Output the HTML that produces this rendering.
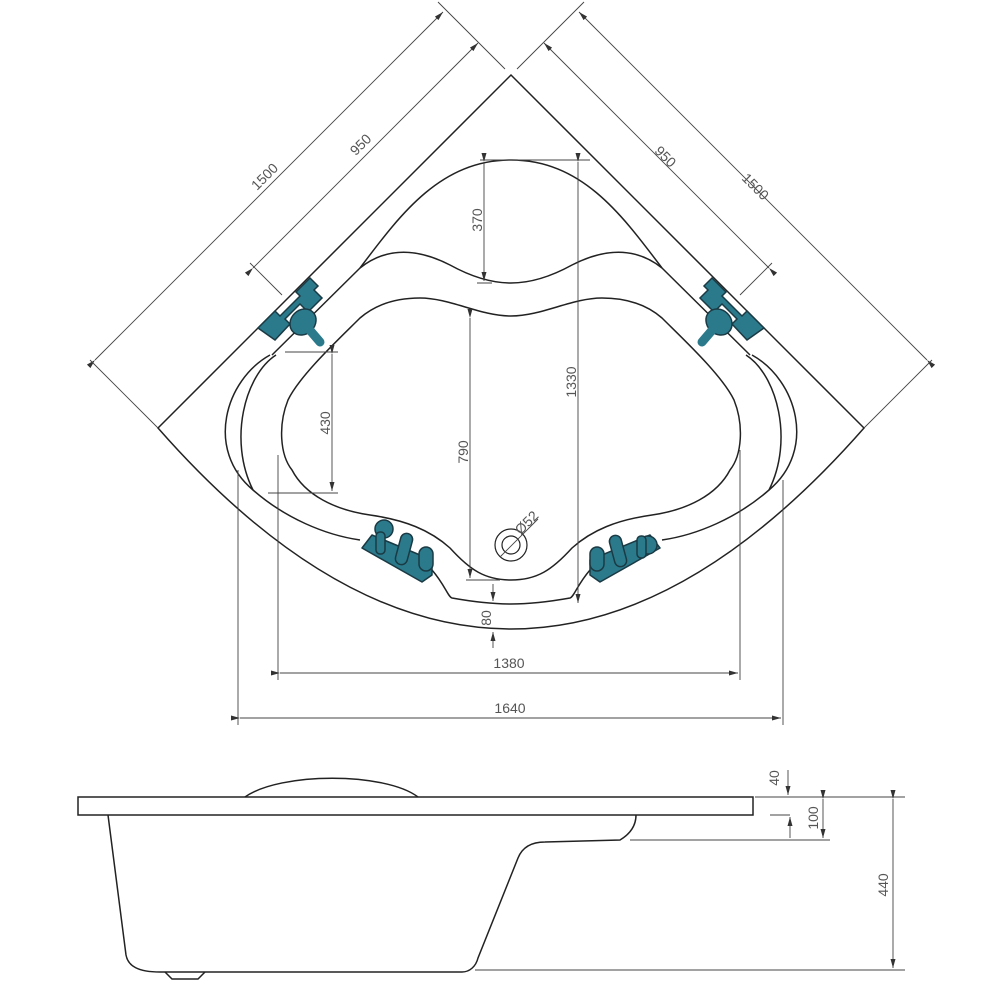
<!DOCTYPE html>
<html><head><meta charset="utf-8"><style>
html,body{margin:0;padding:0;background:#fff}
svg{display:block}
text{font-family:"Liberation Sans",sans-serif;font-size:14px;fill:#555}
</style></head><body>
<svg width="1000" height="1000" viewBox="0 0 1000 1000" xmlns="http://www.w3.org/2000/svg">
<defs>
<marker id="a" markerWidth="10" markerHeight="8" refX="9" refY="4" orient="auto" markerUnits="userSpaceOnUse"><path d="M0,1.5 L9,4 L0,6.5 Z" fill="#333"/></marker>
</defs>
<g fill="none" stroke="#222" stroke-width="1.5">
<!-- outer -->
<path d="M511,75 L158,428 Q511,830 864,428 Z"/>
<!-- inner parallel lines -->
<path d="M360,268 L272,355"/>
<path d="M662,268 L750,355"/>
<!-- top arch -->
<path d="M360,268 C400,215 440,160 511,160 C582,160 622,215 662,268"/>
<!-- wave -->
<path d="M360,268 C385,248 415,247 450,265 C470,276 490,283 511,283 C532,283 552,276 572,265 C607,247 637,248 662,268"/>
<!-- basin -->
<path d="M511,316 C480,316 450,298 420,298 C395,298 375,305 360,318 C340,338 300,375 288,400 C278,425 280,455 292,470 C305,495 335,510 370,515 C405,520 430,530 450,548 C470,570 485,580 511,580 C537,580 552,570 572,548 C592,530 617,520 652,515 C687,510 717,495 730,470 C742,455 744,425 734,400 C722,375 682,338 662,318 C647,305 627,298 602,298 C572,298 542,316 511,316 Z"/>
<!-- middle rim with armrests -->
<path d="M270,355 C225,380 205,450 253,490 C285,518 325,535 360,540"/>
<path d="M276,355 C245,375 228,440 253,490"/>
<path d="M432,570 C445,585 448,597 452,598 C480,603 500,604 511,604 C522,604 542,603 570,598 C574,597 577,585 590,570"/>
<path d="M752,355 C797,380 817,450 769,490 C737,518 697,535 662,540"/>
<path d="M746,355 C777,375 794,440 769,490"/>
<!-- drain -->
<circle cx="511" cy="545" r="16" stroke-width="1.2"/>
<circle cx="511" cy="545" r="9" stroke-width="1.2"/>
</g>
<!-- fixtures -->
<g fill="#2b7a8c" stroke="#1a3a44" stroke-width="1.5">
<path d="M258,328 L275,311 L280,316 L300,296 L296,292 L310,278 L318,286 L314,290 L322,298 L308,312 L300,304 L285,319 L290,324 L275,340 Z"/>
<ellipse cx="303" cy="322" rx="14" ry="12" transform="rotate(-45 303 322)"/>
<path d="M308,328 L320,342" stroke-width="9" stroke-linecap="round" stroke="#2b7a8c"/>
<path d="M764,328 L747,311 L742,316 L722,296 L726,292 L712,278 L704,286 L708,290 L700,298 L714,312 L722,304 L737,319 L732,324 L747,340 Z"/>
<ellipse cx="719" cy="322" rx="14" ry="12" transform="rotate(45 719 322)"/>
<path d="M714,328 L702,342" stroke-width="9" stroke-linecap="round" stroke="#2b7a8c"/>
<path d="M362,548 L372,535 L432,560 L432,575 L422,582 Z" stroke-linejoin="round"/>
<circle cx="384" cy="529" r="9"/><rect x="376" y="532" width="9" height="22" rx="4"/>
<rect x="398" y="533" width="12" height="32" rx="6" transform="rotate(15 404 549)"/>
<rect x="419" y="547" width="14" height="24" rx="7"/>
<path d="M660,548 L650,535 L590,560 L590,575 L600,582 Z" stroke-linejoin="round"/>
<circle cx="648" cy="545" r="9"/><rect x="637" y="536" width="9" height="22" rx="4"/>
<rect x="612" y="535" width="12" height="32" rx="6" transform="rotate(-15 618 551)"/>
<rect x="590" y="547" width="14" height="24" rx="7"/>
</g>
<!-- dimension lines -->
<g fill="none" stroke="#444" stroke-width="0.9">
<path d="M95,360 L443,12" marker-start="url(#a)" marker-end="url(#a)"/>
<path d="M158,428 L90,360 M505,69 L438,2"/>
<path d="M253,268 L478,43" marker-start="url(#a)" marker-end="url(#a)"/>
<path d="M250,263 L282,295"/>
<path d="M927,360 L579,12" marker-start="url(#a)" marker-end="url(#a)"/>
<path d="M864,428 L932,360 M517,69 L584,2"/>
<path d="M769,268 L544,43" marker-start="url(#a)" marker-end="url(#a)"/>
<path d="M772,263 L740,295"/>
<path d="M480,160 L590,160 M477,283 L492,283"/>
<path d="M484,162 L484,281" marker-start="url(#a)" marker-end="url(#a)"/>
<path d="M578,162 L578,603" marker-start="url(#a)" marker-end="url(#a)"/>
<path d="M470,318 L470,578" marker-start="url(#a)" marker-end="url(#a)"/>
<path d="M466,580 L500,580"/>
<path d="M285,352 L338,352 M268,493 L338,493"/>
<path d="M332,354 L332,491" marker-start="url(#a)" marker-end="url(#a)"/>
<path d="M493,584 L493,601" marker-end="url(#a)"/>
<path d="M493,648 L493,632" marker-end="url(#a)"/>
<path d="M278,455 L278,680 M740,450 L740,680"/>
<path d="M280,673 L738,673" marker-start="url(#a)" marker-end="url(#a)"/>
<path d="M238,470 L238,725 M783,480 L783,725"/>
<path d="M240,718 L781,718" marker-start="url(#a)" marker-end="url(#a)"/>
<path d="M500,557 L538,519"/>
</g>
<text transform="translate(268,180) rotate(-45)" text-anchor="middle">1500</text>
<text transform="translate(364,148) rotate(-45)" text-anchor="middle">950</text>
<text transform="translate(662,160) rotate(45)" text-anchor="middle">950</text>
<text transform="translate(752,190) rotate(45)" text-anchor="middle">1500</text>
<text transform="translate(482,220) rotate(-90)" text-anchor="middle">370</text>
<text transform="translate(576,382) rotate(-90)" text-anchor="middle">1330</text>
<text transform="translate(468,452) rotate(-90)" text-anchor="middle">790</text>
<text transform="translate(330,423) rotate(-90)" text-anchor="middle">430</text>
<text transform="translate(491,618) rotate(-90)" text-anchor="middle">80</text>
<text transform="translate(530,526) rotate(-45)" text-anchor="middle">Ø52</text>
<text x="509" y="668" text-anchor="middle">1380</text>
<text x="510" y="713" text-anchor="middle">1640</text>
<!-- side view -->
<g fill="none" stroke="#222" stroke-width="1.5">
<rect x="78" y="797" width="675" height="18"/>
<path d="M245,797 C280,772 385,772 418,797"/>
<path d="M108,815 L126,955 C128,966 138,972 160,972 L462,972 C470,972 476,966 478,958 L518,858 C522,848 530,842 545,842 L620,840 C630,834 636,826 636,815"/>
<path d="M165,972 L172,979 L198,979 L205,972"/>
</g>
<g fill="none" stroke="#444" stroke-width="0.9">
<path d="M755,797 L905,797 M770,815 L790,815 M630,840 L830,840 M475,970 L905,970"/>
<path d="M788,770 L788,795" marker-end="url(#a)"/>
<path d="M790,838 L790,817" marker-end="url(#a)"/>
<path d="M823,799 L823,838" marker-start="url(#a)" marker-end="url(#a)"/>
<path d="M893,799 L893,968" marker-start="url(#a)" marker-end="url(#a)"/>
</g>
<text transform="translate(779,778) rotate(-90)" text-anchor="middle">40</text>
<text transform="translate(818,818) rotate(-90)" text-anchor="middle">100</text>
<text transform="translate(888,885) rotate(-90)" text-anchor="middle">440</text>
</svg>
</body></html>
